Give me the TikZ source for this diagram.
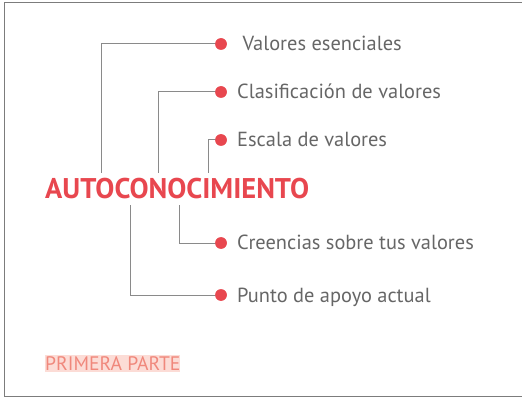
\documentclass[tikz,border=0pt]{standalone}
\usepackage{fontspec}
\setmainfont{PT Sans}
\definecolor{redc}{HTML}{E8474F}
\definecolor{txtgray}{HTML}{666666}
\definecolor{linegray}{HTML}{8A8A8A}
\definecolor{pinkbg}{HTML}{FCDCD6}
\definecolor{pinktxt}{HTML}{F0887C}
\begin{document}
\begin{tikzpicture}[x=1pt,y=-1pt,
  dot/.style={circle,fill=redc,inner sep=0pt,minimum size=11.5pt},
  lbl/.style={anchor=base west,inner sep=0pt,text=txtgray,font=\fontsize{20.4}{24}\selectfont},
  conn/.style={draw=linegray,line width=1pt}]
\useasboundingbox (0,0) rectangle (522,398);
\draw[line width=1.2pt,draw=linegray!90!black] (522,2.5) -- (4.5,2.5) -- (4.5,396.5) -- (522,396.5);
% main
\node[anchor=base west,inner sep=0pt,text=redc,font=\bfseries\fontsize{28.5}{32}\selectfont] (auto) at (45,198.5) {AUTOCONOCIMIENTO};
% dots
\node[dot] (d1) at (221,44) {};
\node[dot] (d2) at (221,92) {};
\node[dot] (d3) at (221,140) {};
\node[dot] (d4) at (221,243) {};
\node[dot] (d5) at (221,295) {};
% labels
\node[lbl] (t1) at (237,51) {\ Valores esenciales};
\node[lbl] (t2) at (237,99) {Clasificación de valores};
\node[lbl] (t3) at (237,147) {Escala de valores};
\node[lbl] (t4) at (237,250) {Creencias sobre tus valores};
\node[lbl] (t5) at (237,302) {Punto de apoyo actual};
% feet
\coordinate (f1) at (101,173);
\coordinate (f2) at (158,173);
\coordinate (f3) at (208,173);
\coordinate (f4) at (179,205);
\coordinate (f5) at (130,205);
\draw[conn] (d1.center) -| (f1);
\draw[conn] (d2.center) -| (f2);
\draw[conn] (d3.center) -| (f3);
\draw[conn] (d4.center) -| (f4);
\draw[conn] (d5.center) -| (f5);
\foreach \d in {d1,d2,d3,d4,d5} \node[dot] at (\d) {};
% footer
\fill[pinkbg] (45,355) rectangle (180,371.5);
\node[anchor=base west,text=pinktxt,inner sep=0pt,font=\fontsize{19.6}{22}\selectfont] (part) at (45,370) {PRIMERA PARTE};
\end{tikzpicture}
\end{document}
